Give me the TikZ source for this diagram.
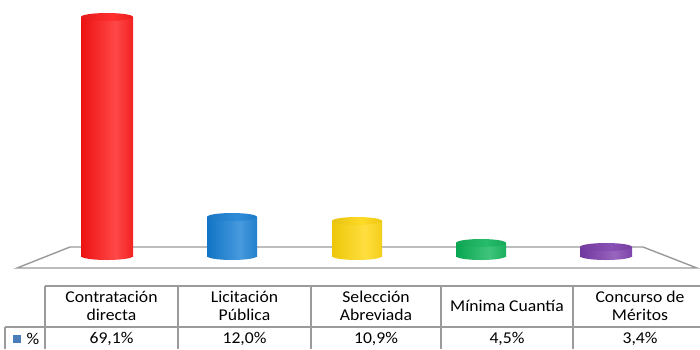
\documentclass[tikz,border=0pt]{standalone}
\usepackage{fontspec}
\setmainfont[FakeStretch=1.07]{Carlito}
\usepackage{tikz}

\definecolor{barred}{HTML}{FF0A0A}
\definecolor{barblue}{HTML}{0A78D2}
\definecolor{baryellow}{HTML}{FFD400}
\definecolor{bargreen}{HTML}{00B050}
\definecolor{barpurple}{HTML}{7532A8}
\definecolor{gridgray}{HTML}{9A9A9A}
\definecolor{keyblue}{HTML}{4A7EBB}

\newcommand{\cylshading}[2]{%
  \pgfdeclarehorizontalshading{#1body}{100bp}{color(0bp)=(#2!70!black); color(20bp)=(#2!92!black); color(58bp)=(#2!75!white); color(86bp)=(#2!92!black); color(100bp)=(#2!72!black)}%
  \pgfdeclarehorizontalshading{#1cap}{100bp}{color(0bp)=(#2!82!black); color(55bp)=(#2!85!white); color(100bp)=(#2!82!black)}}
\cylshading{red}{barred}
\cylshading{blue}{barblue}
\cylshading{yellow}{baryellow}
\cylshading{green}{bargreen}
\cylshading{purple}{barpurple}

\begin{document}
\begin{tikzpicture}[x=1pt, y=-1pt,
  floorline/.style={draw=gridgray, line width=1.4pt},
  tableline/.style={draw=gridgray, line width=1.1pt},
  celltext/.style={align=center, font=\fontsize{16.5}{18}\selectfont, inner sep=0pt}]
  \useasboundingbox (0,0) rectangle (700,349);

  % floor
  \draw[floorline, fill=white] (17,268) -- (70,247) -- (643,247) -- (697,268) -- cycle;

  % cylinders: bottom ellipse, body, top cap
  \shade[shading=redbody] (107,256) ellipse [x radius=26, y radius=4];
  \shade[shading=redbody] (81,17) rectangle (133,256);
  \shade[shading=redcap] (107,17) ellipse [x radius=26, y radius=4];

  \shade[shading=bluebody] (232,256) ellipse [x radius=25, y radius=4];
  \shade[shading=bluebody] (207,217) rectangle (257,256);
  \shade[shading=bluecap] (232,217) ellipse [x radius=25, y radius=4];

  \shade[shading=yellowbody] (357,256) ellipse [x radius=25, y radius=4];
  \shade[shading=yellowbody] (332,221) rectangle (382,256);
  \shade[shading=yellowcap] (357,221) ellipse [x radius=25, y radius=4];

  \shade[shading=greenbody] (481,256) ellipse [x radius=25, y radius=4];
  \shade[shading=greenbody] (456,243) rectangle (506,256);
  \shade[shading=greencap] (481,243) ellipse [x radius=25, y radius=4];

  \shade[shading=purplebody] (606,256) ellipse [x radius=26, y radius=4];
  \shade[shading=purplebody] (580,247) rectangle (632,256);
  \shade[shading=purplecap] (606,247) ellipse [x radius=26, y radius=4];

  % data table
  \draw[tableline] (45,286) -- (700,286);
  \draw[tableline] (5,327) -- (700,327);
  \draw[tableline] (5,327) -- (5,349);
  \draw[tableline] (45,286) -- (45,349);
  \draw[tableline] (178,286) -- (178,349);
  \draw[tableline] (311,286) -- (311,349);
  \draw[tableline] (441,286) -- (441,349);
  \draw[tableline] (573,286) -- (573,349);

  \node[celltext] (hdDirecta) at (111.5,306) {Contratación\\directa};
  \node[celltext] (hdLicitacion) at (244.5,306) {Licitación\\Pública};
  \node[celltext] (hdSeleccion) at (376,306) {Selección\\Abreviada};
  \node[celltext] (hdMinima) at (507,306) {Mínima Cuantía};
  \node[celltext] (hdConcurso) at (640,306) {Concurso de\\Méritos};

  \fill[keyblue] (13,335) rectangle (21,343);
  \node[celltext] (pct) at (33,339) {\%};
  \node[celltext] (valDirecta) at (111.5,339) {69,1\%};
  \node[celltext] (valLicitacion) at (244.5,339) {12,0\%};
  \node[celltext] (valSeleccion) at (376,339) {10,9\%};
  \node[celltext] (valMinima) at (507,339) {4,5\%};
  \node[celltext] (valConcurso) at (640,339) {3,4\%};
\end{tikzpicture}
\end{document}
